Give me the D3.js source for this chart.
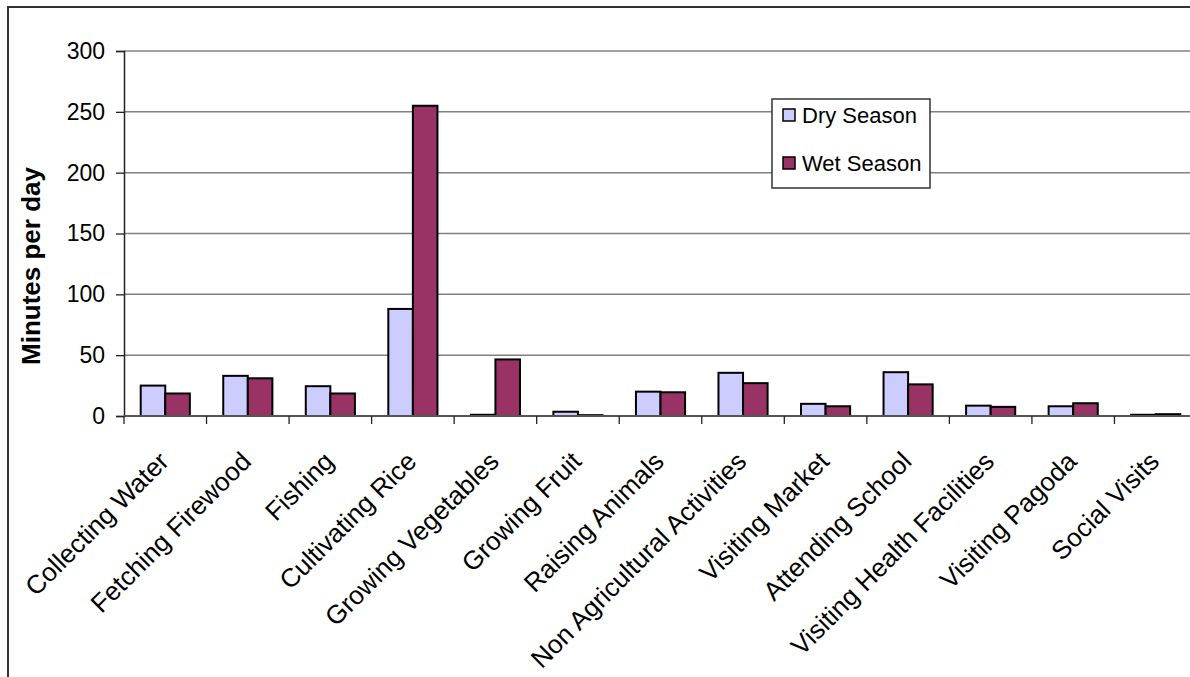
<!DOCTYPE html>
<html><head><meta charset="utf-8">
<script src="https://cdn.jsdelivr.net/npm/d3@7"></script>
<style>body{margin:0;background:#fff;} svg{display:block;} text{font-family:"Liberation Sans",Arial,sans-serif;}</style>
</head><body>
<svg id="c" width="1190" height="677"></svg>
<script>
const categories = ["Collecting Water","Fetching Firewood","Fishing","Cultivating Rice","Growing Vegetables","Growing Fruit","Raising Animals","Non Agricultural Activities","Visiting Market","Attending School","Visiting Health Facilities","Visiting Pagoda","Social Visits"];
const dryValues = [25, 33, 24.5, 88, 1, 3.5, 20, 35.5, 10, 36, 8.5, 8, 1];
const wetValues = [18.5, 31, 18.5, 255, 46.5, 0.7, 19.5, 27, 8, 26, 7.5, 10.5, 1.5];
const seriesNames = ["Dry Season","Wet Season"];
const seriesColors = ["#CCCCFF","#993366"];
const yTicks = [0,50,100,150,200,250,300];

const svg = d3.select("#c");
const m = {left:124, top:51, right:1197, bottom:416};

// frame
svg.append("rect").attr("x",8).attr("y",7).attr("width",1300).attr("height",800)
  .attr("fill","none").attr("stroke","#333").attr("stroke-width",2);

const x = d3.scaleBand().domain(categories).range([m.left, m.right]).paddingInner(0).paddingOuter(0);
const y = d3.scaleLinear().domain([0,300]).range([m.bottom, m.top]);
const bw = x.bandwidth()/3.36;
const off = (x.bandwidth() - 2*bw)/2;

// gridlines
svg.append("g").selectAll("line").data(yTicks.filter(d=>d>0)).join("line")
  .attr("x1",m.left).attr("x2",m.right).attr("y1",d=>y(d)).attr("y2",d=>y(d))
  .attr("stroke","#808080").attr("stroke-width",1.5);

// y axis
const ya = svg.append("g").attr("transform",`translate(${m.left},0)`)
  .call(d3.axisLeft(y).tickValues(yTicks).tickSize(8).tickPadding(11).tickFormat(d3.format("d")));
ya.select(".domain").attr("stroke","#222").attr("stroke-width",1.5);
ya.selectAll(".tick line").attr("stroke","#222").attr("stroke-width",1.3);
ya.selectAll(".tick text").attr("font-size",23).attr("fill","#000").attr("font-family","Liberation Sans, Arial, sans-serif");

// bars
const series = [dryValues, wetValues];
series.forEach((vals,si)=>{
  svg.append("g").selectAll("rect").data(categories).join("rect")
    .attr("x",(c)=>x(c)+off+si*bw)
    .attr("y",(c,i)=>y(vals[i]))
    .attr("width",bw)
    .attr("height",(c,i)=>y(0)-y(vals[i]))
    .attr("fill",seriesColors[si]).attr("stroke","#000").attr("stroke-width",2);
});

// x axis
svg.append("line").attr("x1",m.left).attr("x2",m.right).attr("y1",y(0)).attr("y2",y(0))
  .attr("stroke","#555").attr("stroke-width",2);
const bounds = categories.map(c=>x(c)).concat([m.right]);
svg.append("g").selectAll("line").data(bounds).join("line")
  .attr("x1",d=>d).attr("x2",d=>d).attr("y1",y(0)).attr("y2",y(0)+8)
  .attr("stroke","#222").attr("stroke-width",1.3);

// category labels
svg.append("g").selectAll("text").data(categories).join("text")
  .attr("transform",c=>`translate(${x(c)+x.bandwidth()/2+5},${y(0)+47}) rotate(-45)`)
  .attr("text-anchor","end").attr("font-size",26).attr("fill","#000")
  .text(c=>c);

// y title
svg.append("text").attr("transform",`translate(40,${266}) rotate(-90)`)
  .attr("text-anchor","middle").attr("font-size",26).attr("font-weight","bold").text("Minutes per day");

// legend
const lg = svg.append("g");
lg.append("rect").attr("x",772).attr("y",99).attr("width",158).attr("height",89)
  .attr("fill","#fff").attr("stroke","#333").attr("stroke-width",1.5);
seriesNames.forEach((n,i)=>{
  const cy = 115 + i*48;
  lg.append("rect").attr("x",783).attr("y",cy-6).attr("width",12).attr("height",12)
    .attr("fill",seriesColors[i]).attr("stroke","#000").attr("stroke-width",1.5);
  lg.append("text").attr("x",802).attr("y",cy+8).attr("font-size",22).text(n);
});
</script>
</body></html>
